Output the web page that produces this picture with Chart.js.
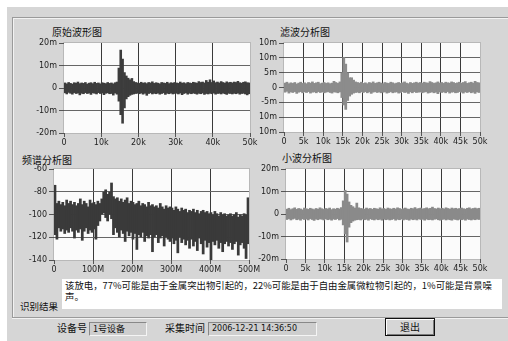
<!DOCTYPE html>
<html>
<head>
<meta charset="utf-8">
<script src="https://cdn.jsdelivr.net/npm/chart.js@4"></script>
<style>
body { margin:0; width:508px; height:341px; background:#fff; overflow:hidden; font-family:"Noto Sans CJK SC", sans-serif; }
#win { position:absolute; left:7px; top:7px; width:501px; height:334px; background:#d6d6d6; }
.ln { position:absolute; background:#9a9a9a; }
.ttl { position:absolute; font-size:10px; line-height:12px; color:#111; white-space:nowrap; }
canvas { position:absolute; }
#res { position:absolute; left:62px; top:279px; width:440px; height:30px; background:#fff; font-size:9.4px; line-height:11px; color:#111; }
#res div { position:absolute; left:3px; white-space:nowrap; }
.fld { position:absolute; top:322px; background:#cecece; border-top:1px solid #888; border-left:1px solid #888; border-bottom:1px solid #f4f4f4; border-right:1px solid #f4f4f4; font-size:9px; line-height:12px; color:#111; padding-left:3px; white-space:nowrap; box-sizing:border-box; height:14px; }
#btn { position:absolute; left:385px; top:318px; width:50px; height:18px; box-sizing:border-box; border:1px solid #111; box-shadow: inset 1px 1px 0 #fff, inset -1px -1px 0 #7a7a7a; background:#d6d6d6; font-size:10px; line-height:16px; text-align:center; color:#111; }
</style>
</head>
<body>
<div id="win"></div>
<div class="ln" style="left:12px;top:17px;width:496px;height:1px"></div>
<div class="ln" style="left:12px;top:18px;width:496px;height:1px;background:#f2f2f2"></div>
<div class="ln" style="left:12px;top:17px;width:1px;height:300px"></div>
<div class="ln" style="left:13px;top:18px;width:1px;height:299px;background:#f2f2f2"></div>
<div class="ln" style="left:12px;top:317px;width:496px;height:1px"></div>
<div class="ln" style="left:12px;top:318px;width:496px;height:1px;background:#f2f2f2"></div>

<div class="ttl" style="left:52px;top:26px">原始波形图</div>
<div class="ttl" style="left:280px;top:26px">滤波分析图</div>
<div class="ttl" style="left:22px;top:154px">频谱分析图</div>
<div class="ttl" style="left:282px;top:152px">小波分析图</div>

<canvas id="c1" width="250" height="116" style="left:14px;top:36px"></canvas>
<canvas id="c2" width="250" height="116" style="left:250px;top:36px"></canvas>
<canvas id="c3" width="250" height="116" style="left:14px;top:162px"></canvas>
<canvas id="c4" width="250" height="116" style="left:250px;top:162px"></canvas>

<div id="res">
  <div style="top:1px">该放电，77%可能是由于金属突出物引起的，22%可能是由于自由金属微粒物引起的，1%可能是背景噪</div>
  <div style="top:12px">声。</div>
</div>
<div class="ttl" style="left:20px;top:300px;font-size:9.5px">识别结果</div>

<div class="ttl" style="left:57px;top:322px">设备号</div>
<div class="fld" style="left:89px;width:58px">1号设备</div>
<div class="ttl" style="left:165px;top:322px">采集时间</div>
<div class="fld" style="left:208px;width:109px;font-family:'DejaVu Sans';font-size:8px">2006-12-21 14:36:50</div>
<div id="btn">退出</div>

<script>
// 原始波形图 (m) - max / min in each 0.5k slot
const rawHi = [2.4,2.0,2.6,2.2,1.9,2.5,2.3,2.8,2.1,2.4, 2.2,2.6,1.9,2.3,2.5,2.1,2.7,2.2,2.4,2.0,
  2.5,2.3,2.1,2.6,2.2,2.4,2.0,2.5,2.8,9.0, 17.0,13.0,7.0,5.5,4.5,3.8,4.4,3.0,2.6,2.4,
  2.2,2.7,2.3,2.5,2.1,2.6,2.4,2.9,2.2,2.5, 2.3,2.0,2.6,2.4,2.2,2.7,2.1,2.5,2.3,2.6,
  2.4,2.2,2.8,2.3,2.5,2.1,2.6,2.4,2.2,2.7, 2.5,2.3,3.0,2.6,2.8,2.4,3.5,2.7,3.8,2.6,
  3.3,2.5,2.8,2.4,3.0,2.6,2.3,2.9,2.5,2.7, 2.4,2.8,2.6,3.1,2.5,2.3,2.7,2.9,2.5,2.4];
const rawLo = [-2.3,-2.8,-2.1,-2.5,-2.9,-2.2,-2.6,-2.4,-3.2,-2.5, -2.7,-2.2,-2.6,-2.4,-3.0,-2.3,-2.5,-2.8,-2.2,-2.6,
  -2.4,-3.1,-2.5,-2.3,-2.7,-2.6,-3.3,-2.4,-2.9,-6.0, -12.0,-15.8,-9.0,-5.0,-4.0,-3.4,-3.0,-2.8,-2.6,-2.5,
  -2.7,-2.4,-2.9,-2.5,-3.4,-2.6,-2.3,-2.8,-2.5,-2.7, -2.4,-2.9,-2.6,-2.3,-3.0,-2.5,-2.7,-2.4,-2.8,-2.6,
  -2.5,-2.8,-2.4,-3.1,-2.6,-2.3,-2.9,-2.5,-2.7,-2.4, -2.6,-2.9,-2.5,-2.7,-2.4,-3.0,-2.6,-2.8,-2.5,-2.7,
  -2.4,-2.9,-2.6,-2.5,-2.8,-2.4,-2.7,-3.0,-2.5,-2.6, -2.8,-2.5,-2.7,-2.4,-2.9,-2.6,-2.5,-2.8,-3.2,-2.7];

// 滤波分析图
const filtHi = [1.6,1.9,1.4,1.7,1.5,1.8,1.3,1.6,1.9,1.5, 1.7,1.4,1.8,1.6,2.0,1.5,1.7,1.9,1.4,1.6,
  1.8,1.5,1.7,1.4,1.6,2.2,1.8,1.5,2.0,5.0, 10.2,8.0,5.0,3.4,3.4,2.6,2.0,1.8,1.6,1.9,
  1.5,1.7,1.4,1.8,1.6,2.0,1.5,1.7,1.9,1.6, 1.4,1.8,1.6,1.5,1.9,1.7,1.4,1.6,1.8,1.5,
  1.7,2.0,1.6,1.4,1.8,1.5,1.7,1.9,1.6,1.8, 1.5,1.9,1.7,1.6,2.1,1.8,1.5,1.7,2.0,1.6,
  1.8,1.5,1.9,1.7,1.6,2.0,1.8,1.5,1.7,1.9, 1.6,1.8,2.1,1.5,1.7,1.9,1.6,2.2,1.8,1.7];
const filtLo = [-1.7,-1.4,-2.0,-1.6,-1.8,-1.5,-2.1,-1.7,-1.5,-1.9, -1.6,-1.8,-1.5,-2.0,-1.7,-1.6,-1.9,-1.5,-1.8,-1.6,
  -1.9,-1.7,-1.5,-1.8,-2.0,-1.6,-1.7,-1.9,-1.6,-3.5, -6.0,-7.5,-4.5,-3.0,-2.4,-2.0,-1.8,-1.7,-1.9,-1.6,
  -1.8,-1.5,-1.9,-1.6,-2.1,-1.7,-1.5,-1.8,-1.6,-1.9, -1.7,-1.6,-2.0,-1.8,-1.5,-1.9,-1.7,-1.6,-2.0,-1.8,
  -1.5,-1.8,-1.7,-2.1,-1.6,-1.9,-1.5,-1.8,-1.7,-1.6, -1.9,-1.7,-1.5,-2.0,-1.8,-1.6,-1.9,-1.7,-2.2,-1.6,
  -1.8,-1.6,-1.9,-1.5,-2.0,-1.7,-1.6,-1.9,-1.8,-1.5, -1.7,-2.0,-1.6,-1.8,-1.5,-1.9,-1.7,-2.1,-1.6,-1.8];
const filtYLabels = ['10m','10m','-5m','0','5m','10m','10m']; // bottom to top, as drawn

// 频谱分析图 (dB) - max / min in each 5M slot
const specHi = [-74,-90,-88,-91,-89,-92,-87,-90,-88,-91, -89,-92,-90,-86,-91,-88,-90,-93,-87,-90,
  -89,-91,-88,-90,-86,-80,-78,-82,-80,-72, -84,-86,-85,-88,-86,-89,-87,-85,-90,-88,
  -89,-91,-90,-88,-92,-90,-91,-93,-89,-92, -91,-93,-92,-94,-90,-93,-95,-92,-94,-93,
  -94,-96,-93,-95,-97,-94,-96,-95,-98,-96, -97,-95,-98,-96,-99,-97,-96,-98,-97,-99,
  -98,-100,-97,-99,-101,-98,-100,-99,-101,-100, -99,-101,-100,-98,-102,-100,-101,-99,-100,-85];
const specLo = [-118,-122,-112,-115,-113,-117,-114,-116,-112,-115, -121,-114,-116,-113,-123,-115,-112,-117,-114,-116,
  -113,-122,-110,-106,-100,-99,-103,-106,-100,-104, -118,-112,-116,-120,-114,-117,-124,-115,-119,-116,
  -122,-117,-131,-118,-120,-116,-124,-119,-121,-118, -133,-120,-118,-125,-121,-119,-128,-120,-122,-124,
  -121,-126,-123,-134,-120,-125,-122,-127,-123,-130, -122,-128,-124,-132,-121,-126,-135,-123,-129,-125,
  -141,-124,-127,-123,-130,-125,-133,-126,-124,-128, -125,-131,-126,-124,-136,-127,-125,-130,-139,-126];

// 小波分析图
const waveHi = [2.3,2.7,2.1,2.5,2.9,2.2,2.6,2.4,2.0,2.8, 2.5,2.2,2.7,2.4,2.1,2.6,2.3,2.9,2.5,2.2,
  2.6,2.4,2.8,2.1,2.5,2.3,2.7,2.4,3.0,6.0, 10.7,9.0,5.5,4.0,3.4,2.8,5.0,2.9,2.6,2.5,
  2.3,2.8,2.4,2.6,2.2,2.7,2.5,2.3,2.9,2.4, 2.6,2.2,2.8,2.5,2.3,2.7,2.4,2.9,2.6,2.3,
  2.5,2.8,2.4,2.2,2.7,2.5,3.0,2.4,2.6,2.8, 2.4,2.6,2.9,2.5,2.7,3.2,2.6,2.4,2.8,2.5,
  2.7,2.4,2.9,2.6,2.3,2.8,2.5,2.7,2.4,2.6, 2.8,2.5,2.3,2.7,2.9,2.4,2.6,2.8,2.5,2.7];
const waveLo = [-2.6,-2.2,-2.8,-2.4,-2.1,-2.7,-2.5,-2.9,-2.3,-2.6, -2.4,-2.8,-2.2,-2.6,-3.0,-2.4,-2.7,-2.3,-2.5,-2.8,
  -2.3,-2.7,-2.5,-2.9,-2.4,-2.6,-2.2,-2.8,-2.5,-5.0, -9.0,-12.6,-6.0,-4.0,-3.3,-2.9,-2.7,-2.6,-2.8,-2.4,
  -2.7,-2.5,-2.9,-2.3,-2.6,-2.8,-2.4,-2.7,-2.5,-2.9, -2.4,-2.7,-2.5,-2.8,-2.6,-2.3,-2.9,-2.5,-2.7,-2.4,
  -2.8,-2.5,-2.6,-2.9,-2.4,-2.7,-2.5,-2.8,-2.3,-2.6, -2.5,-2.9,-2.4,-2.7,-2.6,-2.8,-2.5,-2.3,-2.7,-2.9,
  -2.6,-2.4,-2.8,-2.5,-2.7,-2.9,-2.4,-2.6,-2.8,-2.5, -2.7,-2.5,-2.9,-2.4,-2.6,-2.8,-2.5,-2.7,-2.4,-2.6];

const TICK_FONT = { family: 'DejaVu Sans', size: 8 };

// white plot area
const plotBg = {
  id: 'plotBg',
  beforeDraw(chart) {
    const a = chart.chartArea, c = chart.ctx;
    c.save();
    c.fillStyle = '#fbfbfb';
    c.fillRect(a.left, a.top, a.right - a.left, a.bottom - a.top);
    c.strokeStyle = '#b8b8b8';
    c.strokeRect(a.left - 0.5, a.top - 0.5, a.right - a.left + 1, a.bottom - a.top + 1);
    c.restore();
  }
};

// one floating bar per slot, from the slot minimum to its maximum
function slots(hi, lo, step) {
  return hi.map((h, i) => ({ x: i * step + step / 2, y: [lo[i], h] }));
}

function inner(ctx, color) {
  const n = ctx.scale.ticks.length;
  return (ctx.index === 0 || ctx.index === n - 1) ? 'rgba(0,0,0,0)' : color;
}

function makeChart(id, o) {
  new Chart(document.getElementById(id), {
    type: 'bar',
    data: { datasets: [{ data: o.points, backgroundColor: o.color, borderWidth: 0,
                         barPercentage: 1.4, categoryPercentage: 1 }] },
    options: {
      responsive: false, animation: false, events: [],
      layout: { padding: { top: 7, right: o.padRight, left: 0, bottom: 0 } },
      plugins: { legend: { display: false }, tooltip: { enabled: false } },
      scales: {
        x: {
          type: 'linear', min: o.xMin, max: o.xMax, offset: false,
          afterFit: s => { s.height = o.xHeight; },
          ticks: { stepSize: o.xStep, autoSkip: false, maxRotation: 0, minRotation: 0, padding: 1,
                   color: '#222', font: TICK_FONT, callback: o.xLabel },
          grid: { offset: false, color: c => inner(c, '#3a3a3a'), tickColor: '#555', tickLength: 4, lineWidth: 1 },
          border: { display: false }
        },
        y: {
          min: o.yMin, max: o.yMax, beginAtZero: false,
          afterFit: s => { s.width = o.yWidth; },
          ticks: { stepSize: o.yStep, padding: 2, color: '#222', font: TICK_FONT, callback: o.yLabel },
          grid: { color: c => inner(c, '#666'), tickColor: '#555', tickLength: 5, lineWidth: 1 },
          border: { display: false }
        }
      }
    },
    plugins: [plotBg]
  });
}

const kLabel = v => v === 0 ? '0' : v + 'k';
const mLabel = v => v === 0 ? '0' : v + 'm';

makeChart('c1', { points: slots(rawHi, rawLo, 0.5), color: '#3c3c3c',
  xMin: 0, xMax: 50, xStep: 10, xLabel: kLabel, yMin: -20, yMax: 20, yStep: 10, yLabel: mLabel,
  yWidth: 50, xHeight: 19, padRight: 14 });
makeChart('c2', { points: slots(filtHi, filtLo, 0.5), color: '#8c8c8c',
  xMin: 0, xMax: 50, xStep: 5, xLabel: kLabel, yMin: -15, yMax: 15, yStep: 5,
  yLabel: (v, i) => filtYLabels[i], yWidth: 34, xHeight: 20, padRight: 20 });
makeChart('c3', { points: slots(specHi, specLo, 5), color: '#3a3a3a',
  xMin: 0, xMax: 500, xStep: 100, xLabel: v => v === 0 ? '0' : v + 'M', yMin: -140, yMax: -60, yStep: 20,
  yLabel: v => '' + v, yWidth: 40, xHeight: 18, padRight: 15 });
makeChart('c4', { points: slots(waveHi, waveLo, 0.5), color: '#8a8a8a',
  xMin: 0, xMax: 50, xStep: 5, xLabel: kLabel, yMin: -20, yMax: 20, yStep: 10, yLabel: mLabel,
  yWidth: 36, xHeight: 19, padRight: 20 });
</script>
</body>
</html>
